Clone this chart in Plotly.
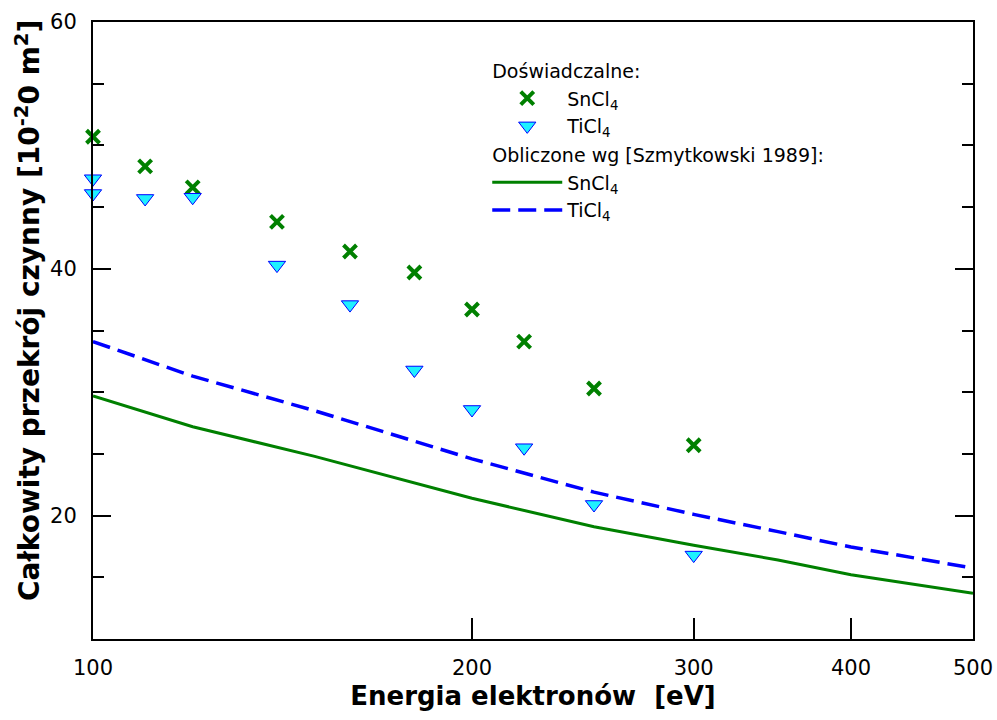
import plotly.graph_objects as go
import numpy as np

# Experimental data
exp_energy_sn = [100, 110, 120, 140, 160, 180, 200, 220, 250, 300]
exp_sncl4 = [50.7, 48.3, 46.6, 43.8, 41.4, 39.7, 36.7, 34.1, 30.3, 25.7]

exp_energy_ti = [100, 100, 110, 120, 140, 160, 180, 200, 220, 250, 300]
exp_ticl4 = [47.3, 46.1, 45.7, 45.8, 40.3, 37.1, 31.8, 28.6, 25.5, 20.9, 16.8]

# Calculated (Szmytkowski 1989)
calc_energy = [100, 120, 150, 200, 250, 300, 350, 400, 500]
calc_sncl4 = [29.7, 27.2, 24.8, 21.4, 19.1, 17.6, 16.4, 15.2, 13.7]
calc_ticl4 = [34.1, 31.3, 28.5, 24.6, 21.9, 20.1, 18.7, 17.45, 15.75]

x_ticks = [100, 200, 300, 400, 500]
y_ticks = [20, 40, 60]

FONT = "DejaVu Sans"

fig = go.Figure()

fig.add_trace(go.Scatter(
    x=exp_energy_sn, y=exp_sncl4, mode="markers",
    name="SnCl<sub>4</sub>",
    legendgroup="exp", legendgrouptitle_text="Doświadczalne:",
    marker=dict(symbol="x-thin", size=13, color="#008000",
                line=dict(width=4, color="#008000")),
    cliponaxis=False,
))
fig.add_trace(go.Scatter(
    x=exp_energy_ti, y=exp_ticl4, mode="markers",
    name="TiCl<sub>4</sub>",
    legendgroup="exp",
    marker=dict(symbol="triangle-down", size=15, color="#1EF0FF",
                line=dict(width=1, color="#0000FF")),
    cliponaxis=False,
))
fig.add_trace(go.Scatter(
    x=calc_energy, y=calc_sncl4, mode="lines",
    name="SnCl<sub>4</sub>",
    legendgroup="calc", legendgrouptitle_text="Obliczone wg [Szmytkowski 1989]:",
    line=dict(color="#008000", width=3),
))
fig.add_trace(go.Scatter(
    x=calc_energy, y=calc_ticl4, mode="lines",
    name="TiCl<sub>4</sub>",
    legendgroup="calc",
    line=dict(color="#0000FF", width=3.5, dash="18px,8px"),
))

fig.update_layout(
    template="none",
    width=997, height=720,
    margin=dict(l=93, r=24, t=22, b=81),
    paper_bgcolor="white", plot_bgcolor="white",
    font=dict(family=FONT, size=21, color="black"),
    showlegend=True,
    legend=dict(
        x=0.448, y=0.952, xanchor="left", yanchor="top",
        bgcolor="rgba(0,0,0,0)",
        font=dict(size=19, family=FONT, color="black"),
        grouptitlefont=dict(size=19, family=FONT, color="black"),
        tracegroupgap=1,
        itemwidth=70,
    ),
    xaxis=dict(
        type="log", range=[2, np.log10(500)],
        tickvals=x_ticks, ticktext=[str(v) for v in x_ticks],
        ticks="inside", ticklen=21, tickwidth=1.5, tickcolor="black",
        showline=True, linecolor="black", linewidth=2, mirror=True,
        showgrid=False, zeroline=False, automargin=False,
        ticklabeloverflow="allow",
        tickfont=dict(size=21, family=FONT),
        ticklabelstandoff=9,
        title=dict(text="<b>Energia elektronów  [eV]</b>", font=dict(size=26, family=FONT), standoff=8),
    ),
    yaxis=dict(
        range=[10, 60],
        tickvals=y_ticks,
        ticks="inside", ticklen=18, tickwidth=2, tickcolor="black",
        minor=dict(dtick=5, tick0=0, ticks="inside", ticklen=11, tickwidth=2, tickcolor="black"),
        showline=True, linecolor="black", linewidth=2, mirror="ticks",
        showgrid=False, zeroline=False, automargin=False,
        tickfont=dict(size=21, family=FONT),
        ticklabelstandoff=10,
    ),
    annotations=[dict(
        text="<b>Całkowity przekrój czynny [10<sup>-2</sup>0 m<sup>2</sup>]</b>",
        xref="paper", yref="paper", x=-0.074, y=0.533,
        xanchor="center", yanchor="middle", textangle=-90, showarrow=False,
        font=dict(size=28, family=FONT, color="black"),
    )],
)

fig.write_html("out.html",
               config={"displayModeBar": False},
               post_script="document.body.style.margin='0';document.body.style.overflow='hidden';")
